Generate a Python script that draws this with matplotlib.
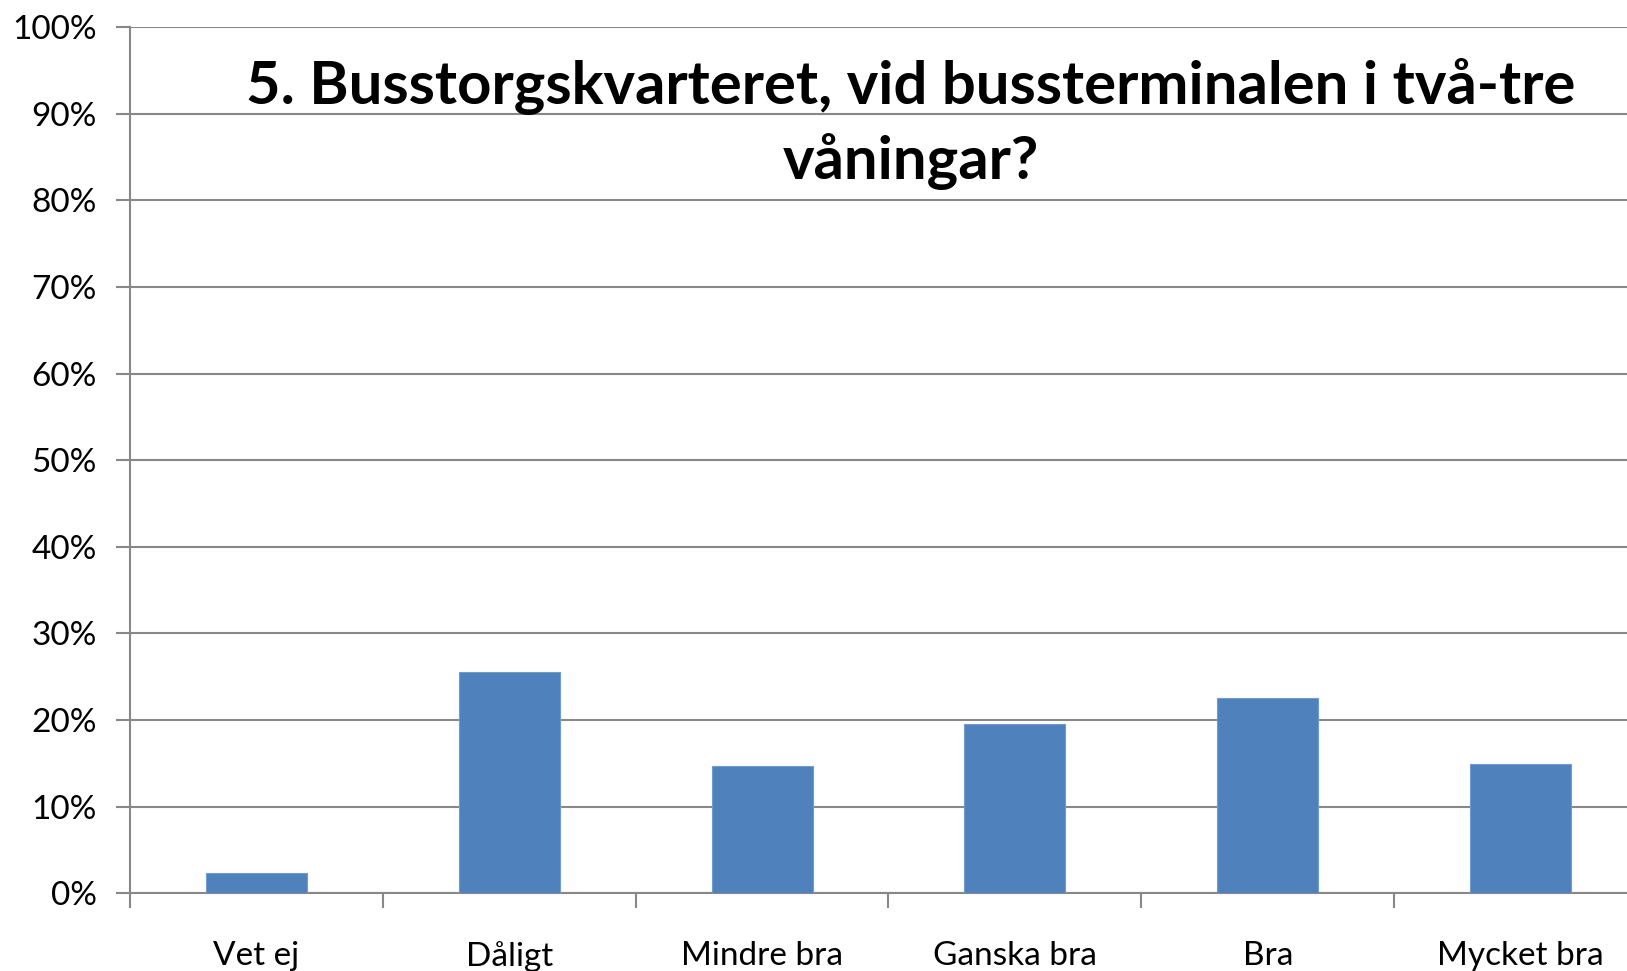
import matplotlib.pyplot as plt
import numpy as np
from matplotlib.ticker import PercentFormatter

categories = ["Vet ej", "Dåligt", "Mindre bra", "Ganska bra", "Bra", "Mycket bra"]
values = [2.3, 25.6, 14.7, 19.6, 22.6, 14.9]
title = "5. Busstorgskvarteret, vid bussterminalen i två-tre\nvåningar?"

plt.rcParams['font.family'] = ['Lato', 'DejaVu Sans']

fig = plt.figure(figsize=(16.27, 9.71), dpi=100)
ax = fig.add_axes([130 / 1627, 0.0799, (1647 - 130) / 1627, 0.9722 - 0.0799])

x = np.arange(len(categories))
ax.bar(x, values, width=0.4, color='#4F81BD', edgecolor='#6F9BD1', linewidth=0.8, zorder=3)

ax.set_xlim(-0.5, len(categories) - 0.5)
ax.set_ylim(0, 100)
ax.set_yticks(np.arange(0, 101, 10))
ax.yaxis.set_major_formatter(PercentFormatter(decimals=0))
ax.grid(axis='y', color='#888888', linewidth=1.5, zorder=0)

ax.set_xticks(np.arange(-0.5, len(categories), 1))
ax.set_xticklabels([])
ax.set_xticks(x, minor=True)
ax.set_xticklabels(categories, minor=True)
ax.tick_params(axis='x', which='major', length=11, width=1.5, color='#888888')
ax.tick_params(axis='x', which='minor', length=0, pad=34, labelsize=24)
ax.tick_params(axis='y', length=10, width=1.5, color='#888888', pad=14, labelsize=24)

for side in ['top', 'right']:
    ax.spines[side].set_visible(False)
for side in ['left', 'bottom']:
    ax.spines[side].set_color('#888888')
    ax.spines[side].set_linewidth(1.5)

fig.text(0.56, 0.872, title, ha='center', va='center', fontsize=43, fontweight='bold',
         linespacing=1.4)

plt.savefig('out.png', dpi=100)
